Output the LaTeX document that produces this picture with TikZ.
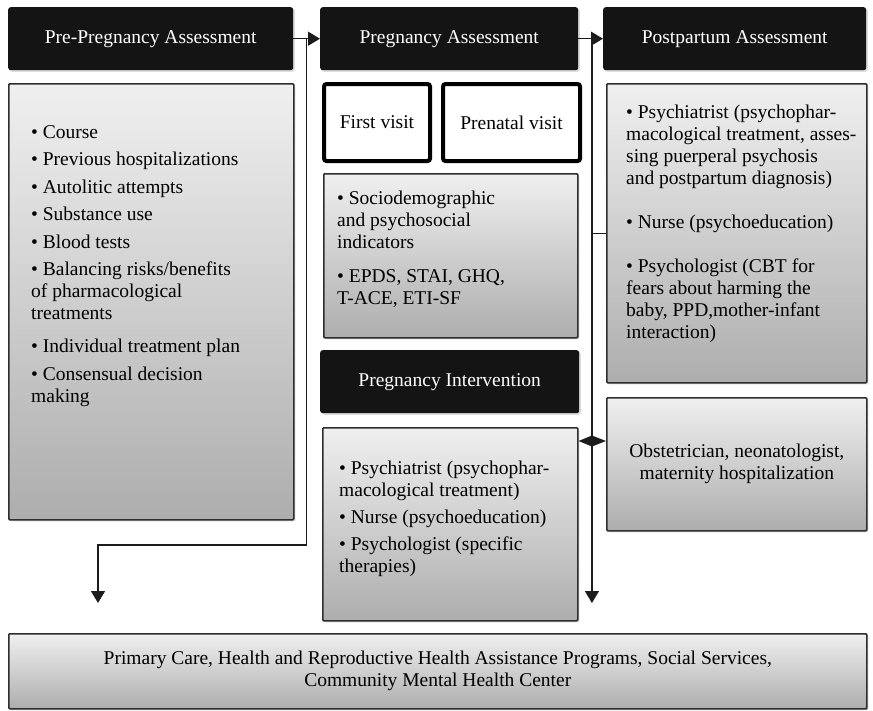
\documentclass[tikz,border=0pt]{standalone}
\usepackage{fontspec}
\setmainfont{Liberation Serif}
\usetikzlibrary{shadows,arrows.meta,positioning}

\definecolor{headblack}{HTML}{141414}
\definecolor{boxedge}{HTML}{2E2E2E}
\definecolor{linkgray}{HTML}{1C1C1C}
\newcommand{\boxfont}{\fontsize{19.5pt}{22pt}\selectfont}

\tikzset{
  softshadow/.style={drop shadow={opacity=0.28,shadow xshift=1.6pt,shadow yshift=-1.6pt}},
  headbox/.style={fill=headblack, text=white, rounded corners=2.5pt, inner sep=0pt,
    minimum height=63pt, anchor=north west, softshadow},
  graybox/.style={draw=boxedge, line width=1.6pt, top color=black!6, bottom color=black!32,
    rounded corners=1pt, inner sep=0pt, anchor=north west, softshadow},
  visitbox/.style={draw=black, line width=4pt, rounded corners=2.5pt, fill=white,
    inner sep=0pt, anchor=north west, softshadow},
  itemtext/.style={align=left, inner sep=0pt, anchor=north west},
  link/.style={draw=linkgray, line width=1.3pt},
  arrowlink/.style={link, -{Triangle[length=12pt,width=14pt]}},
}

\begin{document}
\begin{tikzpicture}[x=1pt,y=-1pt,every node/.style={font=\boxfont}]
\useasboundingbox[fill=white] (0,0) rectangle (873,710);

% headers
\node[headbox, minimum width=285pt] (prehead) at (8,7) {Pre-Pregnancy Assessment};
\node[headbox, minimum width=258pt] (preghead) at (320,7) {Pregnancy Assessment};
\node[headbox, minimum width=263pt] (posthead) at (603,7) {Postpartum Assessment};

% boxes
\node[graybox, minimum width=285pt, minimum height=436pt] (prebox) at (8,83) {};
\node[visitbox, minimum width=106pt, minimum height=77pt] (firstvisit) at (322,82) {First visit};
\node[visitbox, minimum width=137pt, minimum height=77pt] (prenatal) at (441,82) {Prenatal visit};
\node[graybox, minimum width=254pt, minimum height=164pt] (sociobox) at (323,173) {};
\node[headbox, minimum width=259pt] (interhead) at (320,350) {Pregnancy Intervention};
\node[graybox, minimum width=255pt, minimum height=193pt] (interbox) at (322,427) {};
\node[graybox, minimum width=260pt, minimum height=299pt] (postbox) at (606,83) {};
\node[graybox, minimum width=260pt, minimum height=133pt, align=center] (obstbox) at (606,397)
  {Obstetrician, neonatologist,\\maternity hospitalization};
\node[graybox, minimum width=858pt, minimum height=75pt, align=center] (carebox) at (8,633)
  {Primary Care, Health and Reproductive Health Assistance Programs, Social Services,\\Community Mental Health Center};

% box texts (top of the strut = first baseline - 15.4)
\node[itemtext] (pretext) at (31,122.6) {\strut• Course\\[5.5pt]
  • Previous hospitalizations\\[5.5pt]
  • Autolitic attempts\\[5.5pt]
  • Substance use\\[5.5pt]
  • Blood tests\\[5.5pt]
  • Balancing risks/benefits\\
  of pharmacological\\
  treatments\\[11pt]
  • Individual treatment plan\\[5.5pt]
  • Consensual decision\\
  making};
\node[itemtext] (sociotext) at (337,188.6) {\strut• Sociodemographic\\
  and psychosocial\\
  indicators\\[12pt]
  • EPDS, STAI, GHQ,\\
  T-ACE, ETI-SF};
\node[itemtext] (intertext) at (339,458.6) {\strut• Psychiatrist (psychophar-\\
  macological treatment)\\[5pt]
  • Nurse (psychoeducation)\\[5pt]
  • Psychologist (specific\\
  therapies)};
\node[itemtext] (posttext) at (626,102.6) {\strut• Psychiatrist (psychophar-\\
  macological treatment, asses-\\
  sing puerperal psychosis\\
  and postpartum diagnosis)\\[22pt]
  • Nurse (psychoeducation)\\[22pt]
  • Psychologist (CBT for\\
  fears about harming the\\
  baby, PPD,mother-infant\\
  interaction)};

% connectors
\draw[arrowlink] (prehead.east) -- (preghead.west);
\draw[arrowlink] (preghead.east) -- (posthead.west);
\path (prehead.east) -- (preghead.west) coordinate[pos=0.5] (leftsplit);
\path (preghead.east) -- (posthead.west) coordinate[pos=0.55] (rightsplit);
\coordinate (leftdrop) at (98,603);
\coordinate (rightdrop) at (rightsplit |- 0,603);
\draw[arrowlink] (leftsplit) -- (leftsplit |- 0,545) -| (leftdrop);
\draw[arrowlink] (rightsplit) -- (rightdrop);
\draw[link] (rightsplit |- postbox.west) -- (postbox.west);
\fill[linkgray] (interbox.east |- 0,441) -- (rightsplit |- 0,435.5)
  -- (obstbox.west |- 0,441) -- (rightsplit |- 0,446.5) -- cycle;
\end{tikzpicture}
\end{document}
